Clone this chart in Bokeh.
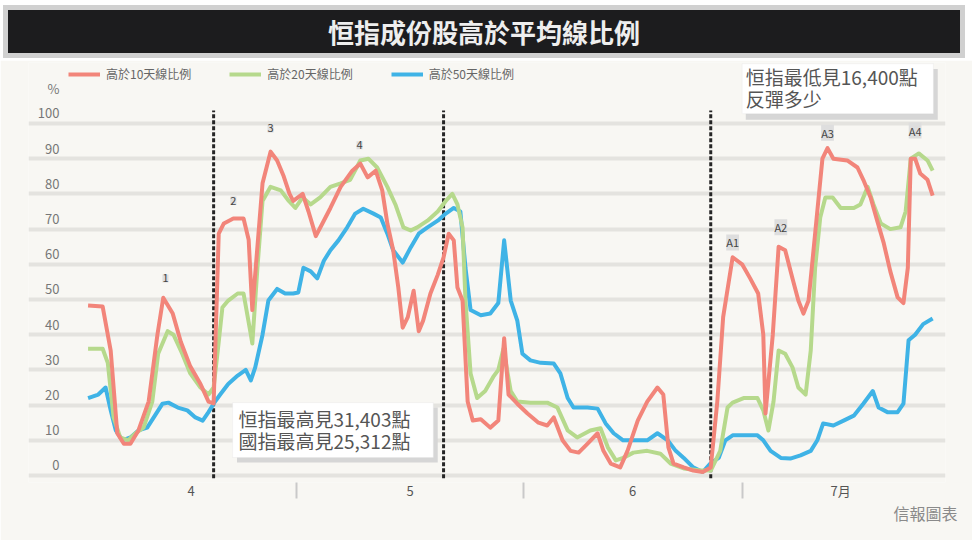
from bokeh.plotting import figure
from bokeh.models import (FixedTicker, Legend, LegendItem, LabelSet, Label,
                          BoxAnnotation, ColumnDataSource, Div, Title)
from bokeh.layouts import column
from bokeh.embed import file_html
from bokeh.resources import INLINE
from bokeh.core.properties import value

# ---------------- data (x = days since 1 April) ----------------
red_x = [0.9, 2.9, 4.0, 4.9, 5.8, 6.7, 7.8, 9.2, 10.4, 11.2, 12.5, 13.6, 14.9, 16.3, 17.4, 18.1,
         18.8, 19.5, 20.8, 22.2, 22.9, 23.4, 24.1, 24.8, 25.9, 26.8, 27.7, 28.5, 29.0, 30.3, 31.1,
         32.1, 33.0, 34.1, 35.5, 37.1, 38.2, 39.2, 40.3, 41.2, 41.9, 42.7, 43.4, 44.0, 44.7, 45.5,
         46.2, 46.8, 47.8, 48.8, 49.6, 50.3, 51.0, 51.5, 52.2, 52.9, 53.6, 54.7, 56.0, 57.1, 57.9,
         58.5, 59.7, 61.1, 62.6, 63.8, 64.7, 65.9, 67.0, 68.1, 69.3, 70.7, 71.5, 72.5, 73.8, 74.8,
         76.2, 77.5, 78.9, 79.7, 80.4, 81.1, 82.5, 83.8, 85.1, 86.2, 87.1, 87.9, 89.2, 90.5, 91.6,
         92.7, 93.4, 93.7, 94.7, 95.5, 96.4, 97.4, 98.2, 98.9, 99.6, 100.5, 101.5, 102.2, 103.0,
         104.9, 106.3, 107.1, 108.1, 109.0, 109.9, 110.8, 111.8, 112.6, 113.2, 113.6, 114.2, 114.9,
         115.9, 116.6]
red_y = [48.3, 48, 35.5, 12, 9, 9, 12.8, 21, 40, 50.5, 46, 38, 31, 26, 21, 20.5,
         68.7, 71.6, 73, 73, 67, 47, 65, 83, 92, 89.5, 85, 80, 78, 80, 75,
         68, 71.6, 76, 82, 86.6, 88.6, 84.7, 86.6, 81, 71.6, 64, 53.4, 42, 45, 52.5,
         41, 44, 51.7, 57, 62, 68.7, 66.8, 53.4, 49.7, 21, 15.6, 16, 13.6, 15.6, 39,
         23, 20.4, 17.6, 15, 14.2, 16.5, 10, 7, 6.5, 9, 12, 7, 3.4, 2.3, 7,
         15.6, 21, 25, 23, 8, 3.4, 2.3, 1.4, 1, 2.3, 21, 45, 62, 60, 56,
         51.7, 40, 17.6, 40, 65, 64, 56, 49.7, 46, 49.7, 68.7, 90, 93, 90,
         89.5, 87.5, 84, 79, 72.4, 66, 58, 50.6, 49, 59, 90, 90, 85.8,
         84, 79.5]

green_x = [0.9, 2.9, 3.6, 4.4, 5.3, 6.4, 7.4, 8.5, 9.7, 10.5, 11.8, 12.6, 13.8, 14.9, 16.3, 17.4,
           18.1, 18.8, 19.3, 20.1, 21.4, 22.2, 23.2, 23.4, 24.1, 24.8, 25.9, 27.3, 28.4, 29.3,
           30.3, 31.4, 32.7, 34.1, 35.5, 36.8, 38.2, 39.3, 40.5, 41.9, 43.0, 44.1, 45.1, 46.0,
           47.4, 48.8, 49.9, 50.8, 51.5, 52.2, 52.6, 53.3, 54.2, 55.3, 56.4, 57.1, 57.8, 58.8,
           59.7, 61.5, 63.8, 65.2, 66.6, 67.9, 69.7, 71.1, 72.1, 73.2, 74.2, 75.6, 77.5, 79.3,
           80.7, 82.5, 84.8, 86.2, 87.5, 88.5, 89.2, 90.7, 92.6, 93.4, 94.1, 94.8, 95.5, 96.4,
           97.4, 98.2, 99.2, 99.9, 100.5, 101.2, 101.9, 102.9, 104.0, 105.8, 106.7, 107.7, 108.5,
           109.5, 110.8, 112.2, 112.9, 113.6, 114.7, 115.9, 116.6]
green_y = [36, 36, 32, 16.5, 10.8, 10, 12, 13.6, 21, 34.6, 41, 40, 34.6, 29, 25, 23,
           25, 38, 47.7, 49.7, 51.7, 51.7, 40, 37.5, 59, 78, 82, 81, 78, 76,
           79, 77, 79, 82, 83, 84, 89.5, 90, 87.5, 82, 77, 70.5, 69.6, 70.5,
           72.4, 75, 78, 80, 77, 70.5, 49.7, 29, 22, 24, 28, 30, 36, 24,
           21, 20.7, 20.7, 19.3, 12.8, 10.8, 12.8, 13.4, 8, 4.3, 5, 6.5, 7, 6.2,
           3.4, 2, 1.4, 1.4, 7, 19.3, 20.7, 22, 22, 18.5, 12.8, 21, 35.5, 34.6,
           30.7, 25, 23, 35.5, 59, 73.3, 79, 79, 76, 76, 77, 82, 77,
           71.6, 70, 70.5, 75, 90, 91.5, 89.5, 86.6]

blue_x = [0.9, 2.3, 3.3, 4.0, 4.7, 5.6, 6.7, 7.8, 9.0, 9.9, 11.1, 11.9, 13.2, 14.5, 15.6, 16.6,
          17.4, 18.1, 19.0, 20.1, 21.4, 22.5, 23.2, 23.8, 24.8, 25.6, 26.8, 27.9, 29.0, 29.7,
          30.4, 31.4, 32.3, 33.2, 34.1, 35.2, 36.4, 37.5, 38.6, 40.0, 41.0, 41.9, 42.7, 44.0,
          45.1, 46.2, 47.4, 48.8, 49.9, 51.0, 51.9, 52.6, 53.3, 54.7, 56.0, 57.1, 57.9, 58.8,
          59.7, 60.4, 61.5, 62.9, 64.7, 65.6, 66.6, 67.4, 69.3, 70.7, 71.8, 72.9, 74.2, 76.2,
          77.5, 78.9, 80.3, 81.4, 82.5, 83.8, 85.1, 86.2, 87.3, 88.2, 89.2, 90.7, 92.6, 93.4,
          94.4, 95.8, 97.1, 98.5, 99.9, 100.8, 101.6, 103.0, 104.4, 105.8, 107.1, 108.4, 109.2,
          110.4, 111.8, 112.6, 113.3, 114.2, 115.3, 116.6]
blue_y = [22, 23, 25, 18.5, 12.8, 10, 10.8, 12.8, 13.6, 16.5, 20.4, 20.7, 19.3, 18.5, 16.5, 15.6,
          18, 20.4, 23, 26, 28.4, 30, 27, 30.7, 40, 49.7, 53, 51.7, 51.7, 52,
          59, 58, 56, 61, 64, 66.8, 70.5, 74.4, 75.8, 74.4, 73.3, 68.7, 64, 60.5,
          64.8, 68.7, 70.5, 72.4, 74.4, 76, 75, 59, 47, 45.5, 46, 49, 66.8, 49.7,
          44, 34.6, 32.7, 32, 31.8, 29, 22, 19.3, 19.3, 19, 14.8, 12, 10, 10,
          10, 12, 10, 7, 5, 2.3, 1, 3.5, 5, 10, 11.4, 11.4, 11.4, 10,
          7, 5, 4.8, 5.7, 7, 10, 14.8, 14.2, 15.6, 17, 20.4, 24, 19.3,
          18, 18, 20.4, 38.4, 40, 43, 44.6]

series_names = ["高於10天線比例", "高於20天線比例", "高於50天線比例"]
event_x = [18.1, 49.6, 86.2]                 # dashed markers
month_ticks = [15, 45, 75.5, 104]
month_labels = ["4", "5", "6", "7月"]
month_breaks = [29.5, 60.5, 90.5]
y_values = [0, 10, 20, 30, 40, 50, 60, 70, 80, 90, 100]
peak_x = [11.5, 20.8, 25.9, 38.1, 89.2, 95.8, 102.2, 114.2]
peak_y = [56, 78.1, 98.6, 93.8, 66.2, 70.5, 97.4, 98]
peak_text = ["1", "2", "3", "4", "A1", "A2", "A3", "A4"]

TITLE = "恒指成份股高於平均線比例"
NOTE_LOW = ["恒指最高見31,403點", "國指最高見25,312點"]
NOTE_HIGH = ["恒指最低見16,400點", "反彈多少"]
SOURCE = "信報圖表"

CJK = "Noto Sans CJK TC"
BG = "#f8f7f3"
RED, GREEN, BLUE = "#f2857a", "#b6d98c", "#3fb3e6"

# ---------------- figure ----------------
p = figure(width=972, height=480, x_range=(-7.26, 118.36), y_range=(-1.99, 117.33),
           output_backend="svg", toolbar_location=None, title=None,
           min_border_left=28, min_border_right=27, min_border_top=2, min_border_bottom=58)
p.background_fill_color = BG
p.border_fill_color = BG
p.outline_line_color = None

# grid
p.xgrid.visible = False
p.ygrid.ticker = FixedTicker(ticks=y_values)
p.ygrid.grid_line_color = "#e4e3df"
p.ygrid.grid_line_width = 4

# y axis: labels sit just above their gridline
lab_off = 3.0
p.yaxis.ticker = FixedTicker(ticks=[v + lab_off for v in y_values] + [110])
ov = {v + lab_off: str(v) for v in y_values}
ov[110] = "%"
p.yaxis.major_label_overrides = ov
p.yaxis.fixed_location = -1.78
p.yaxis.axis_line_color = None
p.yaxis.major_tick_line_color = None
p.yaxis.minor_tick_line_color = None
p.yaxis.major_label_standoff = 3
p.yaxis.major_label_text_font = CJK
p.yaxis.major_label_text_font_size = "13px"
p.yaxis.major_label_text_color = "#777777"

# x axis: month names with light separators
p.xaxis.ticker = FixedTicker(ticks=month_ticks, minor_ticks=month_breaks)
p.xaxis.major_label_overrides = {t: s for t, s in zip(month_ticks, month_labels)}
p.xaxis.axis_line_color = None
p.xaxis.major_tick_line_color = None
p.xaxis.major_tick_out = 0
p.xaxis.major_tick_in = 0
p.xaxis.minor_tick_in = 0
p.xaxis.minor_tick_out = 16
p.xaxis.minor_tick_line_color = "#c9c9c9"
p.xaxis.minor_tick_line_width = 2
p.xaxis.major_label_standoff = -18
p.xaxis.major_label_text_font = CJK
p.xaxis.major_label_text_font_size = "13px"
p.xaxis.major_label_text_color = "#555555"

# event markers
ev = ColumnDataSource(dict(x=event_x, y0=[-0.8] * len(event_x), y1=[103.7] * len(event_x)))
p.segment(x0="x", y0="y0", x1="x", y1="y1", source=ev, line_color="#262626",
          line_width=3, line_dash="4 2")

# series
rb = p.line(blue_x, blue_y, line_color=BLUE, line_width=4, line_join="round")
rg = p.line(green_x, green_y, line_color=GREEN, line_width=4, line_join="round")
rr = p.line(red_x, red_y, line_color=RED, line_width=4, line_join="round")

legend = Legend(items=[LegendItem(label=series_names[0], renderers=[rr]),
                       LegendItem(label=series_names[1], renderers=[rg]),
                       LegendItem(label=series_names[2], renderers=[rb])],
                orientation="horizontal", location=(40, 400),
                glyph_width=32, glyph_height=14, label_standoff=6, spacing=38,
                padding=0, margin=0, background_fill_alpha=0, border_line_color=None,
                label_text_font=CJK, label_text_font_size="12px", label_text_color="#666666")
p.add_layout(legend)

# peak labels
pk = ColumnDataSource(dict(x=peak_x, y=peak_y, t=peak_text))
p.add_layout(LabelSet(x="x", y="y", text="t", source=pk, text_align="center",
                      text_baseline="middle", text_font=value(CJK), text_font_size=value("11px"),
                      text_color="#444444", background_fill_color="#dedede"))

# note boxes (shadow + white card)
p.add_layout(BoxAnnotation(left=21.3, right=48.8, top=19.3, bottom=3.7,
                           fill_color="#d6d6d6", fill_alpha=1, line_color=None))
p.add_layout(BoxAnnotation(left=20.7, right=48.2, top=20.7, bottom=5.1,
                           fill_color="white", fill_alpha=1, line_color="#e2e2e2"))
p.add_layout(BoxAnnotation(left=91.0, right=117.3, top=115.5, bottom=101.1,
                           fill_color="#d6d6d6", fill_alpha=1, line_color=None))
p.add_layout(BoxAnnotation(left=90.5, right=116.7, top=117.0, bottom=102.8,
                           fill_color="white", fill_alpha=1, line_color="#e2e2e2"))
for txt, yy in zip(NOTE_LOW, [16.2, 9.9]):
    p.add_layout(Label(x=21.5, y=yy, text=txt, text_baseline="middle", text_font=CJK,
                       text_font_size="19px", text_color="#555555"))
for txt, yy in zip(NOTE_HIGH, [113.4, 107.1]):
    p.add_layout(Label(x=91.0, y=yy, text=txt, text_baseline="middle", text_font=CJK,
                       text_font_size="19px", text_color="#555555"))

# source credit
p.add_layout(Title(text=SOURCE, align="right", text_font=CJK, text_font_size="16px",
                   text_font_style="normal", text_color="#8a8a8a", standoff=-8, offset=-12), "below")

# title bar
title_html = ('<div style="box-sizing:border-box;margin:5px 0 0 3px;width:962px;height:53px;'
              'background:#1c1c1e;border:5px solid #d0d0d0;color:#eeeeee;'
              'font-family:\'Noto Sans CJK TC\';font-weight:bold;font-size:26px;'
              'line-height:43px;text-align:center;">' + TITLE + '</div>')
head = Div(text=title_html, width=972, height=60, margin=0)

layout = column(head, p, spacing=0)
open("out.html", "w").write(file_html(layout, INLINE))
